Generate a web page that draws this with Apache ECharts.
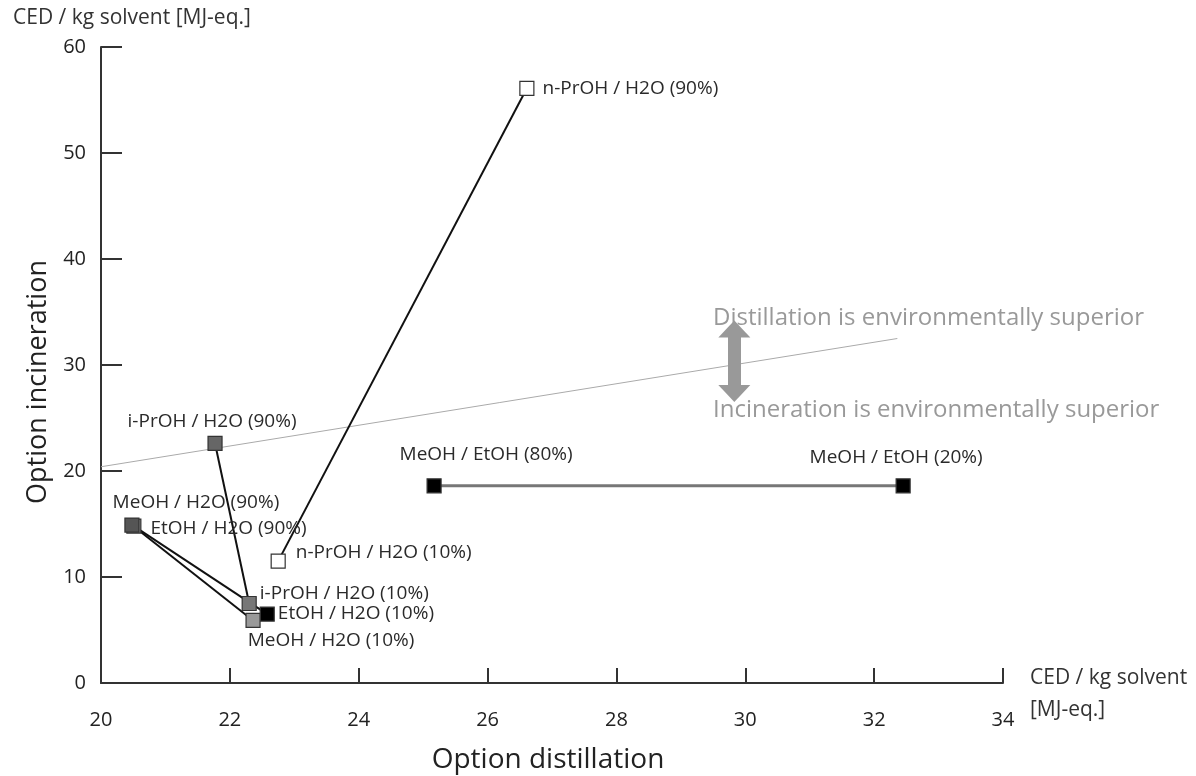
<!DOCTYPE html>
<html>
<head>
<meta charset="utf-8">
<script src="https://cdn.jsdelivr.net/npm/echarts@6/dist/echarts.min.js"></script>
<style>
  html, body { margin: 0; padding: 0; background: #fff; }
  #chart { width: 1196px; height: 776px; }
</style>
</head>
<body>
<div id="chart"></div>
<script>
// Points (x: CED distillation, y: CED incineration)
const pointNames = [
  'n-PrOH / H2O (90%)', 'n-PrOH / H2O (10%)',
  'i-PrOH / H2O (90%)', 'i-PrOH / H2O (10%)',
  'EtOH / H2O (90%)', 'EtOH / H2O (10%)',
  'MeOH / H2O (90%)', 'MeOH / H2O (10%)',
  'MeOH / EtOH (80%)', 'MeOH / EtOH (20%)'
];
const distillX = [26.61, 22.75, 21.77, 22.30, 20.51, 22.58, 20.48, 22.36, 25.17, 32.45];
const incinerY = [56.1, 11.5, 22.6, 7.5, 14.8, 6.5, 14.9, 5.9, 18.6, 18.6];
// which points are joined by a line
const pairs = [[0, 1], [2, 3], [4, 5], [6, 7], [8, 9]];

// break-even line
const breakEvenX = [20, 32.36];
const breakEvenY = [20.4, 32.5];

// double arrow
const arrowX = 29.83;
const arrowY = [33.4, 27.3];

const xTicks = [20, 22, 24, 26, 28, 30, 32, 34];
const yTicks = [0, 10, 20, 30, 40, 50, 60];

// styling per point (kept apart from the data)
const pointStyle = [
  { fill: '#fff', label: { position: 'right', distance: 8 } },
  { fill: '#fff', label: { position: 'right', distance: 10, offset: [0, -9] } },
  { fill: '#666', label: { position: 'top', distance: 5, offset: [-3, 0] } },
  { fill: '#777', label: { position: 'right', distance: 3, offset: [0, -10] } },
  { fill: '#888', label: { position: 'right', distance: 9, offset: [0, 2] } },
  { fill: '#000', label: { position: 'right', distance: 3, offset: [0, -1] } },
  { fill: '#555', label: { position: 'top', distance: 5, offset: [64, 0] } },
  { fill: '#999', label: { position: 'bottom', distance: 3, offset: [78, 0] } },
  { fill: '#000', label: { position: 'top', distance: 14, offset: [52, 0] } },
  { fill: '#000', label: { position: 'top', distance: 11, offset: [-7, 0] } }
];
const lineColors = ['#111', '#111', '#111', '#111', '#777'];

const font = '"Open Sans", "Noto Sans", sans-serif';
const chart = echarts.init(document.getElementById('chart'));

const pairSeries = pairs.map((p, k) => ({
  type: 'line',
  symbol: 'rect',
  symbolSize: 14,
  z: 3,
  lineStyle: { color: lineColors[k], width: k === 4 ? 3 : 2 },
  data: p.map(i => ({
    name: pointNames[i],
    value: [distillX[i], incinerY[i]],
    itemStyle: { color: pointStyle[i].fill, borderColor: '#333', borderWidth: 1.2 },
    label: Object.assign({
      show: true,
      formatter: '{b}',
      color: '#2a2a2a',
      fontSize: 19,
      fontFamily: font
    }, pointStyle[i].label)
  }))
}));

chart.setOption({
  animation: false,
  grid: { left: 101, right: 193, top: 47, bottom: 93 },
  xAxis: {
    type: 'value', min: 20, max: 34, interval: 2,
    axisLine: { lineStyle: { color: '#333', width: 2 } },
    axisTick: { inside: true, length: 15, lineStyle: { color: '#333', width: 2 } },
    splitLine: { show: false },
    axisLabel: { margin: 27, color: '#222', fontSize: 20, fontFamily: font,
      formatter: v => xTicks.includes(v) ? String(v) : '' }
  },
  yAxis: {
    type: 'value', min: 0, max: 60, interval: 10,
    axisLine: { lineStyle: { color: '#333', width: 2 } },
    axisTick: { inside: true, length: 21, lineStyle: { color: '#333', width: 2 } },
    splitLine: { show: false },
    axisLabel: { margin: 15, color: '#222', fontSize: 20, fontFamily: font,
      formatter: v => yTicks.includes(v) ? String(v) : '' }
  },
  graphic: [
    { type: 'text', x: 13, y: 18, style: { text: 'CED / kg solvent [MJ-eq.]', fill: '#333', font: '21px ' + font, verticalAlign: 'middle' } },
    { type: 'text', x: 1030, y: 678, style: { text: 'CED / kg solvent', fill: '#333', font: '21px ' + font, verticalAlign: 'middle' } },
    { type: 'text', x: 1030, y: 710, style: { text: '[MJ-eq.]', fill: '#333', font: '21px ' + font, verticalAlign: 'middle' } },
    { type: 'text', x: 548, y: 760, style: { text: 'Option distillation', fill: '#222', font: '28px ' + font, align: 'center', verticalAlign: 'middle' } },
    { type: 'text', x: 38, y: 382, rotation: Math.PI / 2, style: { text: 'Option incineration', fill: '#222', font: '27px ' + font, align: 'center', verticalAlign: 'middle' } },
    { type: 'text', x: 713, y: 318, style: { text: 'Distillation is environmentally superior', fill: '#999', font: '24px ' + font, verticalAlign: 'middle' } },
    { type: 'text', x: 713, y: 410, style: { text: 'Incineration is environmentally superior', fill: '#999', font: '24px ' + font, verticalAlign: 'middle' } }
  ],
  series: [
    {
      type: 'line',
      symbol: 'none',
      z: 1,
      lineStyle: { color: '#aaa', width: 1 },
      data: breakEvenX.map((x, i) => [x, breakEvenY[i]]),
      markLine: {
        silent: true,
        symbol: ['triangle', 'triangle'],
        symbolSize: [32, 17],
        lineStyle: { color: '#999', width: 13, type: 'solid', cap: 'butt' },
        itemStyle: { color: '#999' },
        label: { show: false },
        data: [[{ coord: [arrowX, arrowY[0]] }, { coord: [arrowX, arrowY[1]] }]]
      }
    }
  ].concat(pairSeries)
});
</script>
</body>
</html>
